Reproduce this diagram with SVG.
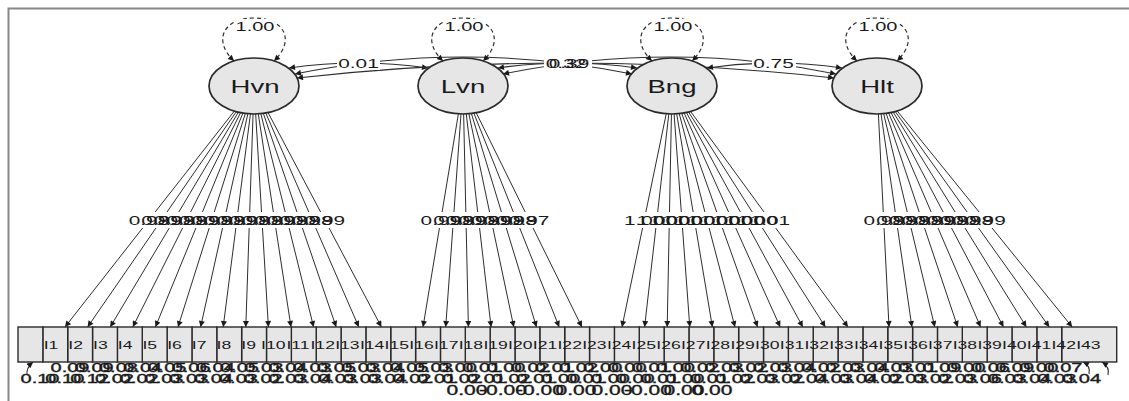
<svg xmlns="http://www.w3.org/2000/svg" width="1129" height="401" viewBox="0 0 1129 401">
<style>
text { font-family: "Liberation Sans", Arial, sans-serif; fill: #1a1a1a; text-anchor: middle; }
.f13 { font-size: 13px; }
.f12 { font-size: 12.5px; }
.f11 { font-size: 11px; }
.f19 { font-size: 19px; }
.f14 { font-size: 14px; }
.res text { stroke: #1a1a1a; stroke-width: 0.35; }
.lat { fill: #e6e6e6; stroke: #2a2a2a; stroke-width: 1.7; }
.box { fill: #e6e6e6; stroke: #2a2a2a; stroke-width: 1.4; }
.ld { stroke: #2e2e2e; stroke-width: 1; fill: none; marker-end: url(#ah); }
.cv { stroke: #2e2e2e; stroke-width: 1.1; fill: none; marker-start: url(#ah); marker-end: url(#ah); }
.vl { stroke: #2e2e2e; stroke-width: 1.2; fill: none; stroke-dasharray: 4 3; marker-start: url(#ah); marker-end: url(#ah); }
.rl { stroke: #2e2e2e; stroke-width: 1.1; fill: none; marker-end: url(#ah); }
.bg { fill: #ffffff; }
.frame { stroke: #888; stroke-width: 2; fill: none; }
</style>
<defs>
<marker id="ah" viewBox="0 0 10 10" refX="10" refY="5" markerWidth="7" markerHeight="6" markerUnits="userSpaceOnUse" orient="auto-start-reverse">
<path d="M0,0 L10,5 L0,10 z" fill="#1a1a1a"/>
</marker>
</defs>
<rect width="1129" height="401" fill="#ffffff"/>
<path class="frame" d="M8.5,401 L8.5,8.5 L1129,8.5"/>

<g id="connectors">
<line class="ld" x1="254" y1="86" x2="65" y2="327"/>
<line class="ld" x1="254" y1="86" x2="87.6" y2="327"/>
<line class="ld" x1="254" y1="86" x2="110.2" y2="327"/>
<line class="ld" x1="254" y1="86" x2="132.8" y2="327"/>
<line class="ld" x1="254" y1="86" x2="155.4" y2="327"/>
<line class="ld" x1="254" y1="86" x2="178" y2="327"/>
<line class="ld" x1="254" y1="86" x2="200.6" y2="327"/>
<line class="ld" x1="254" y1="86" x2="223.2" y2="327"/>
<line class="ld" x1="254" y1="86" x2="245.8" y2="327"/>
<line class="ld" x1="254" y1="86" x2="268.4" y2="327"/>
<line class="ld" x1="254" y1="86" x2="291" y2="327"/>
<line class="ld" x1="254" y1="86" x2="313.6" y2="327"/>
<line class="ld" x1="254" y1="86" x2="336.2" y2="327"/>
<line class="ld" x1="254" y1="86" x2="358.8" y2="327"/>
<line class="ld" x1="254" y1="86" x2="381.4" y2="327"/>
<line class="ld" x1="463" y1="86" x2="423" y2="327"/>
<line class="ld" x1="463" y1="86" x2="445.7" y2="327"/>
<line class="ld" x1="463" y1="86" x2="468.4" y2="327"/>
<line class="ld" x1="463" y1="86" x2="491.1" y2="327"/>
<line class="ld" x1="463" y1="86" x2="513.8" y2="327"/>
<line class="ld" x1="463" y1="86" x2="536.5" y2="327"/>
<line class="ld" x1="463" y1="86" x2="559.2" y2="327"/>
<line class="ld" x1="463" y1="86" x2="581.9" y2="327"/>
<line class="ld" x1="672" y1="86" x2="622" y2="327"/>
<line class="ld" x1="672" y1="86" x2="644.6" y2="327"/>
<line class="ld" x1="672" y1="86" x2="667.2" y2="327"/>
<line class="ld" x1="672" y1="86" x2="689.8" y2="327"/>
<line class="ld" x1="672" y1="86" x2="712.4" y2="327"/>
<line class="ld" x1="672" y1="86" x2="735" y2="327"/>
<line class="ld" x1="672" y1="86" x2="757.6" y2="327"/>
<line class="ld" x1="672" y1="86" x2="780.2" y2="327"/>
<line class="ld" x1="672" y1="86" x2="802.8" y2="327"/>
<line class="ld" x1="672" y1="86" x2="825.4" y2="327"/>
<line class="ld" x1="672" y1="86" x2="848" y2="327"/>
<line class="ld" x1="877" y1="86" x2="889" y2="327"/>
<line class="ld" x1="877" y1="86" x2="911.9" y2="327"/>
<line class="ld" x1="877" y1="86" x2="934.8" y2="327"/>
<line class="ld" x1="877" y1="86" x2="957.7" y2="327"/>
<line class="ld" x1="877" y1="86" x2="980.6" y2="327"/>
<line class="ld" x1="877" y1="86" x2="1003.5" y2="327"/>
<line class="ld" x1="877" y1="86" x2="1026.4" y2="327"/>
<line class="ld" x1="877" y1="86" x2="1049.3" y2="327"/>
<line class="ld" x1="877" y1="86" x2="1072.2" y2="327"/>

<rect class="bg" x="127" y="212" width="222" height="16"/>
<rect class="bg" x="419" y="212" width="132" height="16"/>
<rect class="bg" x="622" y="212" width="170" height="16"/>
<rect class="bg" x="862" y="212" width="146" height="16"/>
<g class="f13">
<text transform="translate(148.9 224.5) scale(1.6 1)">0.98</text>
<text transform="translate(161.5 224.5) scale(1.6 1)">0.99</text>
<text transform="translate(174 224.5) scale(1.6 1)">0.98</text>
<text transform="translate(186.6 224.5) scale(1.6 1)">0.98</text>
<text transform="translate(199.2 224.5) scale(1.6 1)">0.99</text>
<text transform="translate(211.7 224.5) scale(1.6 1)">0.98</text>
<text transform="translate(224.3 224.5) scale(1.6 1)">0.98</text>
<text transform="translate(236.9 224.5) scale(1.6 1)">0.99</text>
<text transform="translate(249.4 224.5) scale(1.6 1)">0.98</text>
<text transform="translate(262 224.5) scale(1.6 1)">0.98</text>
<text transform="translate(274.6 224.5) scale(1.6 1)">0.99</text>
<text transform="translate(287.1 224.5) scale(1.6 1)">0.98</text>
<text transform="translate(299.7 224.5) scale(1.6 1)">0.98</text>
<text transform="translate(312.3 224.5) scale(1.6 1)">0.98</text>
<text transform="translate(324.8 224.5) scale(1.6 1)">0.99</text>
<text transform="translate(440.8 224.5) scale(1.6 1)">0.99</text>
<text transform="translate(453.4 224.5) scale(1.6 1)">0.98</text>
<text transform="translate(466 224.5) scale(1.6 1)">0.99</text>
<text transform="translate(478.6 224.5) scale(1.6 1)">0.98</text>
<text transform="translate(491.2 224.5) scale(1.6 1)">0.99</text>
<text transform="translate(503.9 224.5) scale(1.6 1)">0.98</text>
<text transform="translate(516.5 224.5) scale(1.6 1)">0.98</text>
<text transform="translate(529.1 224.5) scale(1.6 1)">0.97</text>
<text transform="translate(644.2 224.5) scale(1.6 1)">1.00</text>
<text transform="translate(656.8 224.5) scale(1.6 1)">1.00</text>
<text transform="translate(669.3 224.5) scale(1.6 1)">1.00</text>
<text transform="translate(681.9 224.5) scale(1.6 1)">1.00</text>
<text transform="translate(694.5 224.5) scale(1.6 1)">1.00</text>
<text transform="translate(707 224.5) scale(1.6 1)">1.00</text>
<text transform="translate(719.6 224.5) scale(1.6 1)">1.00</text>
<text transform="translate(732.2 224.5) scale(1.6 1)">1.00</text>
<text transform="translate(744.7 224.5) scale(1.6 1)">1.00</text>
<text transform="translate(757.3 224.5) scale(1.6 1)">1.00</text>
<text transform="translate(769.9 224.5) scale(1.6 1)">1.01</text>
<text transform="translate(883.7 224.5) scale(1.6 1)">0.98</text>
<text transform="translate(896.4 224.5) scale(1.6 1)">0.98</text>
<text transform="translate(909.1 224.5) scale(1.6 1)">0.98</text>
<text transform="translate(921.9 224.5) scale(1.6 1)">0.98</text>
<text transform="translate(934.6 224.5) scale(1.6 1)">0.99</text>
<text transform="translate(947.3 224.5) scale(1.6 1)">0.98</text>
<text transform="translate(960.1 224.5) scale(1.6 1)">0.98</text>
<text transform="translate(972.8 224.5) scale(1.6 1)">0.98</text>
<text transform="translate(985.5 224.5) scale(1.6 1)">0.99</text>
</g>

<path class="cv" d="M289,68 Q358,58 428,68"/>
<path class="cv" d="M295,74 Q463,40 632,74"/>
<path class="cv" d="M297,78 Q566,48 834,78"/>
<path class="cv" d="M498,68 Q567,58 637,68"/>
<path class="cv" d="M503,74 Q670,40 836,74"/>
<path class="cv" d="M707,68 Q774,58 842,68"/>
<rect class="bg" x="337" y="57" width="43" height="13"/>
<rect class="bg" x="544" y="57" width="48" height="13"/>
<rect class="bg" x="752" y="57" width="44" height="13"/>
<g class="f13">
<text transform="translate(358.5 68) scale(1.6 1)">0.01</text>
<text transform="translate(566 68) scale(1.6 1)">0.32</text>
<text transform="translate(569 68) scale(1.6 1)">0.39</text>
<text transform="translate(773.5 68) scale(1.6 1)">0.75</text>
</g>

<path class="vl" d="M234,61 C212,40 224,18 254,18 C284,18 296,40 274,61"/>
<path class="vl" d="M443,61 C421,40 433,18 463,18 C493,18 505,40 483,61"/>
<path class="vl" d="M652,61 C630,40 642,18 672,18 C702,18 714,40 692,61"/>
<path class="vl" d="M857,61 C835,40 847,18 877,18 C907,18 919,40 897,61"/>
<rect class="bg" x="234" y="19" width="42" height="14"/>
<rect class="bg" x="443" y="19" width="42" height="14"/>
<rect class="bg" x="652" y="19" width="42" height="14"/>
<rect class="bg" x="857" y="19" width="42" height="14"/>
<g class="f12">
<text transform="translate(255 31) scale(1.6 1)">1.00</text>
<text transform="translate(464 31) scale(1.6 1)">1.00</text>
<text transform="translate(673 31) scale(1.6 1)">1.00</text>
<text transform="translate(878 31) scale(1.6 1)">1.00</text>
</g>

<path class="rl" d="M27,375 Q26,368 33,362"/>
<path class="rl" d="M1089,374 Q1091,366 1083,362"/>
<path class="rl" d="M1108,375 Q1110,367 1102,362"/>
</g>

<g id="Hvn"><ellipse class="lat" cx="254" cy="86" rx="45" ry="28"/><text class="f19" transform="translate(255 93) scale(1.45 1)">Hvn</text></g>
<g id="Lvn"><ellipse class="lat" cx="463" cy="86" rx="45" ry="28"/><text class="f19" transform="translate(463 93) scale(1.45 1)">Lvn</text></g>
<g id="Bng"><ellipse class="lat" cx="672" cy="86" rx="45" ry="28"/><text class="f19" transform="translate(672 93) scale(1.45 1)">Bng</text></g>
<g id="Hlt"><ellipse class="lat" cx="877" cy="86" rx="45" ry="28"/><text class="f19" transform="translate(877 93) scale(1.45 1)">Hlt</text></g>

<g class="f11">
<g id="I43"><rect class="box" x="1061.7" y="327" width="55" height="35"/><text transform="translate(1088.4 348.5) scale(1.6 1)">I43</text></g>
<g id="I42"><rect class="box" x="1036.85" y="327" width="24.85" height="35"/><text transform="translate(1063.7 348.5) scale(1.6 1)">I42</text></g>
<g id="I41"><rect class="box" x="1012" y="327" width="24.85" height="35"/><text transform="translate(1039 348.5) scale(1.6 1)">I41</text></g>
<g id="I40"><rect class="box" x="987.15" y="327" width="24.85" height="35"/><text transform="translate(1014.3 348.5) scale(1.6 1)">I40</text></g>
<g id="I39"><rect class="box" x="962.3" y="327" width="24.85" height="35"/><text transform="translate(989.6 348.5) scale(1.6 1)">I39</text></g>
<g id="I38"><rect class="box" x="937.45" y="327" width="24.85" height="35"/><text transform="translate(964.9 348.5) scale(1.6 1)">I38</text></g>
<g id="I37"><rect class="box" x="912.6" y="327" width="24.85" height="35"/><text transform="translate(940.2 348.5) scale(1.6 1)">I37</text></g>
<g id="I36"><rect class="box" x="887.75" y="327" width="24.85" height="35"/><text transform="translate(915.5 348.5) scale(1.6 1)">I36</text></g>
<g id="I35"><rect class="box" x="862.9" y="327" width="24.85" height="35"/><text transform="translate(890.8 348.5) scale(1.6 1)">I35</text></g>
<g id="I34"><rect class="box" x="838.05" y="327" width="24.85" height="35"/><text transform="translate(866.1 348.5) scale(1.6 1)">I34</text></g>
<g id="I33"><rect class="box" x="813.2" y="327" width="24.85" height="35"/><text transform="translate(841.4 348.5) scale(1.6 1)">I33</text></g>
<g id="I32"><rect class="box" x="788.35" y="327" width="24.85" height="35"/><text transform="translate(816.7 348.5) scale(1.6 1)">I32</text></g>
<g id="I31"><rect class="box" x="763.5" y="327" width="24.85" height="35"/><text transform="translate(792 348.5) scale(1.6 1)">I31</text></g>
<g id="I30"><rect class="box" x="738.65" y="327" width="24.85" height="35"/><text transform="translate(767.3 348.5) scale(1.6 1)">I30</text></g>
<g id="I29"><rect class="box" x="713.8" y="327" width="24.85" height="35"/><text transform="translate(742.6 348.5) scale(1.6 1)">I29</text></g>
<g id="I28"><rect class="box" x="688.95" y="327" width="24.85" height="35"/><text transform="translate(717.9 348.5) scale(1.6 1)">I28</text></g>
<g id="I27"><rect class="box" x="664.1" y="327" width="24.85" height="35"/><text transform="translate(693.2 348.5) scale(1.6 1)">I27</text></g>
<g id="I26"><rect class="box" x="639.25" y="327" width="24.85" height="35"/><text transform="translate(668.5 348.5) scale(1.6 1)">I26</text></g>
<g id="I25"><rect class="box" x="614.4" y="327" width="24.85" height="35"/><text transform="translate(643.8 348.5) scale(1.6 1)">I25</text></g>
<g id="I24"><rect class="box" x="589.55" y="327" width="24.85" height="35"/><text transform="translate(619.1 348.5) scale(1.6 1)">I24</text></g>
<g id="I23"><rect class="box" x="564.7" y="327" width="24.85" height="35"/><text transform="translate(594.4 348.5) scale(1.6 1)">I23</text></g>
<g id="I22"><rect class="box" x="539.85" y="327" width="24.85" height="35"/><text transform="translate(569.7 348.5) scale(1.6 1)">I22</text></g>
<g id="I21"><rect class="box" x="515" y="327" width="24.85" height="35"/><text transform="translate(545 348.5) scale(1.6 1)">I21</text></g>
<g id="I20"><rect class="box" x="490.15" y="327" width="24.85" height="35"/><text transform="translate(520.3 348.5) scale(1.6 1)">I20</text></g>
<g id="I19"><rect class="box" x="465.3" y="327" width="24.85" height="35"/><text transform="translate(495.6 348.5) scale(1.6 1)">I19</text></g>
<g id="I18"><rect class="box" x="440.45" y="327" width="24.85" height="35"/><text transform="translate(470.9 348.5) scale(1.6 1)">I18</text></g>
<g id="I17"><rect class="box" x="415.6" y="327" width="24.85" height="35"/><text transform="translate(446.2 348.5) scale(1.6 1)">I17</text></g>
<g id="I16"><rect class="box" x="390.75" y="327" width="24.85" height="35"/><text transform="translate(421.5 348.5) scale(1.6 1)">I16</text></g>
<g id="I15"><rect class="box" x="365.9" y="327" width="24.85" height="35"/><text transform="translate(396.8 348.5) scale(1.6 1)">I15</text></g>
<g id="I14"><rect class="box" x="341.05" y="327" width="24.85" height="35"/><text transform="translate(372.1 348.5) scale(1.6 1)">I14</text></g>
<g id="I13"><rect class="box" x="316.2" y="327" width="24.85" height="35"/><text transform="translate(347.4 348.5) scale(1.6 1)">I13</text></g>
<g id="I12"><rect class="box" x="291.35" y="327" width="24.85" height="35"/><text transform="translate(322.7 348.5) scale(1.6 1)">I12</text></g>
<g id="I11"><rect class="box" x="266.5" y="327" width="24.85" height="35"/><text transform="translate(298 348.5) scale(1.6 1)">I11</text></g>
<g id="I10"><rect class="box" x="241.65" y="327" width="24.85" height="35"/><text transform="translate(273.3 348.5) scale(1.6 1)">I10</text></g>
<g id="I9"><rect class="box" x="216.8" y="327" width="24.85" height="35"/><text transform="translate(248.6 348.5) scale(1.6 1)">I9</text></g>
<g id="I8"><rect class="box" x="191.95" y="327" width="24.85" height="35"/><text transform="translate(223.9 348.5) scale(1.6 1)">I8</text></g>
<g id="I7"><rect class="box" x="167.1" y="327" width="24.85" height="35"/><text transform="translate(199.2 348.5) scale(1.6 1)">I7</text></g>
<g id="I6"><rect class="box" x="142.25" y="327" width="24.85" height="35"/><text transform="translate(174.5 348.5) scale(1.6 1)">I6</text></g>
<g id="I5"><rect class="box" x="117.4" y="327" width="24.85" height="35"/><text transform="translate(149.8 348.5) scale(1.6 1)">I5</text></g>
<g id="I4"><rect class="box" x="92.55" y="327" width="24.85" height="35"/><text transform="translate(125.1 348.5) scale(1.6 1)">I4</text></g>
<g id="I3"><rect class="box" x="67.7" y="327" width="24.85" height="35"/><text transform="translate(100.4 348.5) scale(1.6 1)">I3</text></g>
<g id="I2"><rect class="box" x="42.85" y="327" width="24.85" height="35"/><text transform="translate(75.7 348.5) scale(1.6 1)">I2</text></g>
<g id="I1"><rect class="box" x="18" y="327" width="24.85" height="35"/><text transform="translate(51 348.5) scale(1.6 1)">I1</text></g>
</g>

<g id="residual-labels" class="f12 res">
<text transform="translate(70 372) scale(1.6 1)">0.09</text>
<text transform="translate(94.2 372) scale(1.6 1)">0.09</text>
<text transform="translate(118.4 372) scale(1.6 1)">0.08</text>
<text transform="translate(142.7 372) scale(1.6 1)">0.04</text>
<text transform="translate(166.9 372) scale(1.6 1)">0.05</text>
<text transform="translate(191.1 372) scale(1.6 1)">0.06</text>
<text transform="translate(215.3 372) scale(1.6 1)">0.04</text>
<text transform="translate(239.5 372) scale(1.6 1)">0.05</text>
<text transform="translate(263.8 372) scale(1.6 1)">0.03</text>
<text transform="translate(288 372) scale(1.6 1)">0.04</text>
<text transform="translate(312.2 372) scale(1.6 1)">0.03</text>
<text transform="translate(336.4 372) scale(1.6 1)">0.05</text>
<text transform="translate(360.6 372) scale(1.6 1)">0.03</text>
<text transform="translate(384.9 372) scale(1.6 1)">0.04</text>
<text transform="translate(409.1 372) scale(1.6 1)">0.05</text>
<text transform="translate(433.3 372) scale(1.6 1)">0.03</text>
<text transform="translate(457.5 372) scale(1.6 1)">0.00</text>
<text transform="translate(481.7 372) scale(1.6 1)">0.01</text>
<text transform="translate(506 372) scale(1.6 1)">0.00</text>
<text transform="translate(530.2 372) scale(1.6 1)">0.02</text>
<text transform="translate(554.4 372) scale(1.6 1)">0.01</text>
<text transform="translate(578.6 372) scale(1.6 1)">0.02</text>
<text transform="translate(602.8 372) scale(1.6 1)">0.00</text>
<text transform="translate(627.1 372) scale(1.6 1)">0.00</text>
<text transform="translate(651.3 372) scale(1.6 1)">0.01</text>
<text transform="translate(675.5 372) scale(1.6 1)">0.00</text>
<text transform="translate(699.7 372) scale(1.6 1)">0.02</text>
<text transform="translate(723.9 372) scale(1.6 1)">0.03</text>
<text transform="translate(748.2 372) scale(1.6 1)">0.02</text>
<text transform="translate(772.4 372) scale(1.6 1)">0.03</text>
<text transform="translate(796.6 372) scale(1.6 1)">0.04</text>
<text transform="translate(820.8 372) scale(1.6 1)">0.02</text>
<text transform="translate(845 372) scale(1.6 1)">0.03</text>
<text transform="translate(869.3 372) scale(1.6 1)">0.04</text>
<text transform="translate(893.5 372) scale(1.6 1)">0.03</text>
<text transform="translate(917.7 372) scale(1.6 1)">0.01</text>
<text transform="translate(941.9 372) scale(1.6 1)">0.09</text>
<text transform="translate(966.1 372) scale(1.6 1)">0.00</text>
<text transform="translate(990.4 372) scale(1.6 1)">0.06</text>
<text transform="translate(1014.6 372) scale(1.6 1)">0.09</text>
<text transform="translate(1038.8 372) scale(1.6 1)">0.00</text>
<text transform="translate(1063 372) scale(1.6 1)">0.07</text>
<text transform="translate(40 383) scale(1.6 1)">0.10</text>
<text transform="translate(64.8 383) scale(1.6 1)">0.10</text>
<text transform="translate(89.6 383) scale(1.6 1)">0.12</text>
<text transform="translate(114.4 383) scale(1.6 1)">0.02</text>
<text transform="translate(139.2 383) scale(1.6 1)">0.02</text>
<text transform="translate(164 383) scale(1.6 1)">0.03</text>
<text transform="translate(188.8 383) scale(1.6 1)">0.03</text>
<text transform="translate(213.6 383) scale(1.6 1)">0.04</text>
<text transform="translate(238.4 383) scale(1.6 1)">0.03</text>
<text transform="translate(263.2 383) scale(1.6 1)">0.02</text>
<text transform="translate(288 383) scale(1.6 1)">0.03</text>
<text transform="translate(312.8 383) scale(1.6 1)">0.04</text>
<text transform="translate(337.6 383) scale(1.6 1)">0.03</text>
<text transform="translate(362.4 383) scale(1.6 1)">0.03</text>
<text transform="translate(387.2 383) scale(1.6 1)">0.04</text>
<text transform="translate(412 383) scale(1.6 1)">0.02</text>
<text transform="translate(436.8 383) scale(1.6 1)">0.01</text>
<text transform="translate(461.6 383) scale(1.6 1)">0.02</text>
<text transform="translate(486.4 383) scale(1.6 1)">0.01</text>
<text transform="translate(511.2 383) scale(1.6 1)">0.02</text>
<text transform="translate(536 383) scale(1.6 1)">0.01</text>
<text transform="translate(560.8 383) scale(1.6 1)">0.00</text>
<text transform="translate(585.6 383) scale(1.6 1)">0.01</text>
<text transform="translate(610.4 383) scale(1.6 1)">0.00</text>
<text transform="translate(635.2 383) scale(1.6 1)">0.00</text>
<text transform="translate(660 383) scale(1.6 1)">0.01</text>
<text transform="translate(684.8 383) scale(1.6 1)">0.00</text>
<text transform="translate(709.6 383) scale(1.6 1)">0.01</text>
<text transform="translate(734.4 383) scale(1.6 1)">0.02</text>
<text transform="translate(759.2 383) scale(1.6 1)">0.03</text>
<text transform="translate(784 383) scale(1.6 1)">0.02</text>
<text transform="translate(808.8 383) scale(1.6 1)">0.04</text>
<text transform="translate(833.6 383) scale(1.6 1)">0.03</text>
<text transform="translate(858.4 383) scale(1.6 1)">0.04</text>
<text transform="translate(883.2 383) scale(1.6 1)">0.02</text>
<text transform="translate(908 383) scale(1.6 1)">0.03</text>
<text transform="translate(932.8 383) scale(1.6 1)">0.02</text>
<text transform="translate(957.6 383) scale(1.6 1)">0.03</text>
<text transform="translate(982.4 383) scale(1.6 1)">0.06</text>
<text transform="translate(1007.2 383) scale(1.6 1)">0.03</text>
<text transform="translate(1032 383) scale(1.6 1)">0.04</text>
<text transform="translate(1056.8 383) scale(1.6 1)">0.03</text>
<text transform="translate(1081.6 383) scale(1.6 1)">0.04</text>
</g>
<g id="residual-cov-labels" class="f14 res">
<text transform="translate(467 395) scale(1.5 1)">0.00</text>
<text transform="translate(503 395) scale(1.5 1)">-0.00</text>
<text transform="translate(540 395) scale(1.5 1)">-0.00</text>
<text transform="translate(576 395) scale(1.5 1)">0.00</text>
<text transform="translate(612 395) scale(1.5 1)">0.00</text>
<text transform="translate(648 395) scale(1.5 1)">-0.00</text>
<text transform="translate(684 395) scale(1.5 1)">0.00</text>
<text transform="translate(712 395) scale(1.5 1)">0.00</text>
</g>
</svg>
